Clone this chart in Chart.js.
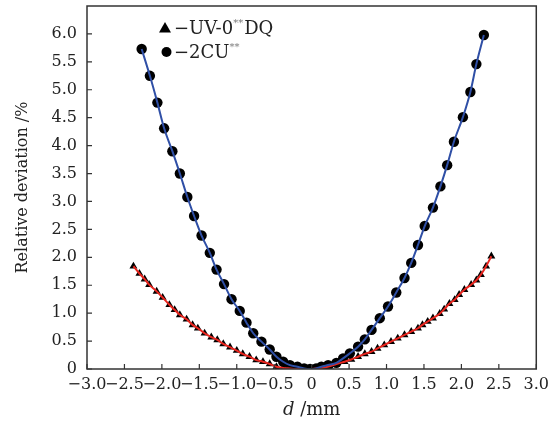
<!DOCTYPE html>
<html>
<head>
<meta charset="utf-8">
<script src="https://cdn.jsdelivr.net/npm/chart.js@4/dist/chart.umd.min.js"></script>
<style>
  html, body { margin: 0; padding: 0; background: #fff; }
  #wrap { width: 555px; height: 421px; }
</style>
</head>
<body>
<div id="wrap"><canvas id="devChart"></canvas></div>
<script>
// UV-0**DQ (triangles, red fit)
const triX = [-2.38,-2.30,-2.23,-2.17,-2.07,-1.99,-1.90,-1.83,-1.76,-1.67,-1.59,-1.52,-1.43,-1.34,-1.26,
  -1.18,-1.09,-1.00,-0.92,-0.83,-0.74,-0.65,-0.56,-0.47,-0.38,-0.29,-0.20,-0.11,-0.02,0.06,
  0.15,0.24,0.33,0.44,0.53,0.62,0.71,0.80,0.88,0.97,1.06,1.15,1.24,1.33,1.42,
  1.48,1.55,1.62,1.71,1.77,1.84,1.91,1.97,2.04,2.13,2.20,2.26,2.33,2.40];
const triY = [1.84,1.71,1.61,1.51,1.39,1.28,1.15,1.06,0.97,0.89,0.79,0.73,0.64,0.57,0.52,
  0.45,0.39,0.33,0.27,0.22,0.16,0.13,0.09,0.04,0.02,0.01,0.00,0.00,0.00,0.01,
  0.02,0.05,0.09,0.13,0.17,0.22,0.27,0.31,0.37,0.43,0.49,0.55,0.61,0.67,0.73,
  0.79,0.85,0.91,0.99,1.07,1.17,1.24,1.33,1.42,1.51,1.59,1.69,1.84,2.02];

// 2CU** (circles, blue fit)
const circX = [-2.27,-2.16,-2.06,-1.97,-1.86,-1.76,-1.66,-1.57,-1.47,-1.36,-1.27,-1.17,-1.07,-0.96,-0.87,
  -0.78,-0.67,-0.56,-0.47,-0.38,-0.29,-0.19,-0.10,-0.02,0.06,0.13,0.22,0.33,0.42,0.51,
  0.62,0.71,0.80,0.91,1.02,1.13,1.24,1.33,1.42,1.51,1.62,1.72,1.81,1.90,2.02,2.12,2.20,2.30];
const circY = [5.73,5.25,4.77,4.31,3.90,3.50,3.08,2.74,2.39,2.08,1.78,1.52,1.25,1.04,0.83,
  0.64,0.49,0.35,0.22,0.13,0.07,0.04,0.01,0.00,0.01,0.04,0.07,0.11,0.19,0.28,
  0.40,0.53,0.70,0.91,1.12,1.37,1.63,1.90,2.22,2.56,2.89,3.27,3.65,4.07,4.51,4.96,5.46,5.98];

const xTicks = [-3.0,-2.5,-2.0,-1.5,-1.0,-0.5,0,0.5,1.0,1.5,2.0,2.5,3.0];
const yTicks = [0,0.5,1.0,1.5,2.0,2.5,3.0,3.5,4.0,4.5,5.0,5.5,6.0];

const legendRows = [
  { marker: 'triangle', text: '\u2212UV-0', sup: '**', tail: 'DQ' },
  { marker: 'circle', text: '\u22122CU', sup: '**', tail: '' }
];

const serif = "'DejaVu Serif', 'Liberation Serif', serif";

function fmt(v) {
  return v === 0 ? '0' : (v < 0 ? '\u2212' : '') + Math.abs(v).toFixed(1);
}

const triPts = triX.map((x, i) => ({ x: x, y: triY[i] }));
const circPts = circX.map((x, i) => ({ x: x, y: circY[i] }));

const framePlugin = {
  id: 'frame',
  afterDraw(chart) {
    const ctx = chart.ctx, a = chart.chartArea;
    const xs = chart.scales.x, ys = chart.scales.y;
    ctx.save();
    ctx.strokeStyle = '#333';
    ctx.lineWidth = 1.5;
    ctx.strokeRect(a.left, a.top, a.right - a.left, a.bottom - a.top);
    ctx.lineWidth = 1.2;
    ctx.beginPath();
    xTicks.forEach(v => {
      const px = xs.getPixelForValue(v);
      ctx.moveTo(px, a.bottom); ctx.lineTo(px, a.bottom - 5);
    });
    yTicks.forEach(v => {
      const py = ys.getPixelForValue(v);
      ctx.moveTo(a.left, py); ctx.lineTo(a.left + 5, py);
    });
    ctx.stroke();

    // x axis title with italic d
    ctx.fillStyle = '#222';
    ctx.textBaseline = 'alphabetic';
    const f1 = 'italic 18px ' + serif, f2 = '18px ' + serif;
    ctx.font = f1; const w1 = ctx.measureText('d').width;
    ctx.font = f2; const w2 = ctx.measureText(' /mm').width;
    const cx = (a.left + a.right) / 2 - (w1 + w2) / 2;
    ctx.font = f1; ctx.fillText('d', cx, 415);
    ctx.font = f2; ctx.fillText(' /mm', cx + w1, 415);

    // legend
    legendRows.forEach((r, i) => {
      const y = 28 + i * 24;
      ctx.fillStyle = '#000';
      ctx.beginPath();
      if (r.marker === 'triangle') {
        ctx.moveTo(165, y - 6); ctx.lineTo(171, y + 4.5); ctx.lineTo(159, y + 4.5); ctx.closePath();
      } else {
        ctx.arc(166.5, y, 5, 0, Math.PI * 2);
      }
      ctx.fill();
      ctx.fillStyle = '#222';
      ctx.textBaseline = 'middle';
      ctx.font = '18px ' + serif;
      let x = 174;
      ctx.fillText(r.text, x, y + 1);
      x += ctx.measureText(r.text).width;
      ctx.font = '10px ' + serif;
      ctx.fillStyle = '#777';
      ctx.fillText(r.sup, x, y - 5);
      x += ctx.measureText(r.sup).width + 1;
      ctx.fillStyle = '#222';
      ctx.font = '18px ' + serif;
      if (r.tail) ctx.fillText(r.tail, x, y + 1);
    });
    ctx.restore();
  }
};

new Chart('devChart', {
  type: 'line',
  data: {
    datasets: [{
      label: 'UV-0**DQ',
      data: triPts,
      showLine: false,
      backgroundColor: '#000',
      pointStyle: 'triangle',
      pointRadius: 4.6,
      pointBackgroundColor: '#000',
      pointBorderColor: '#000',
      pointBorderWidth: 0,
      order: 4
    }, {
      label: '2CU**',
      data: circPts,
      showLine: false,
      backgroundColor: '#000',
      pointStyle: 'circle',
      pointRadius: 5.2,
      pointBackgroundColor: '#000',
      pointBorderColor: '#000',
      pointBorderWidth: 0,
      order: 3
    }, {
      label: 'UV-0**DQ fit',
      data: triPts,
      borderColor: '#e8261f',
      borderWidth: 2,
      pointRadius: 0,
      cubicInterpolationMode: 'monotone',
      order: 2
    }, {
      label: '2CU** fit',
      data: circPts,
      borderColor: '#2f4fa6',
      borderWidth: 2,
      pointRadius: 0,
      cubicInterpolationMode: 'monotone',
      order: 1
    }]
  },
  options: {
    responsive: true,
    maintainAspectRatio: false,
    animation: false,
    layout: { padding: { top: 6, right: 18, left: 0, bottom: 0 } },
    plugins: {
      legend: { display: false },
      tooltip: { enabled: false }
    },
    scales: {
      x: {
        type: 'linear',
        min: -3, max: 3,
        grid: { display: false, drawTicks: false },
        border: { display: false },
        afterBuildTicks: s => { s.ticks = xTicks.map(v => ({ value: v })); },
        afterFit: s => { s.height = 52; },
        ticks: {
          autoSkip: false, maxRotation: 0, padding: 6,
          color: '#222',
          font: { family: serif, size: 16 },
          callback: v => fmt(v)
        }
      },
      y: {
        min: 0, max: 6.5,
        grid: { display: false, drawTicks: false },
        border: { display: false },
        afterBuildTicks: s => { s.ticks = yTicks.map(v => ({ value: v })); },
        afterFit: s => { s.width = 87; s.paddingTop = 0; },
        title: {
          display: true,
          text: 'Relative deviation /%',
          color: '#222',
          font: { family: serif, size: 16 },
          padding: { top: 13, bottom: 0 }
        },
        ticks: {
          autoSkip: false, padding: 10,
          color: '#222',
          font: { family: serif, size: 16 },
          callback: v => fmt(v)
        }
      }
    }
  },
  plugins: [framePlugin]
});
</script>
</body>
</html>
